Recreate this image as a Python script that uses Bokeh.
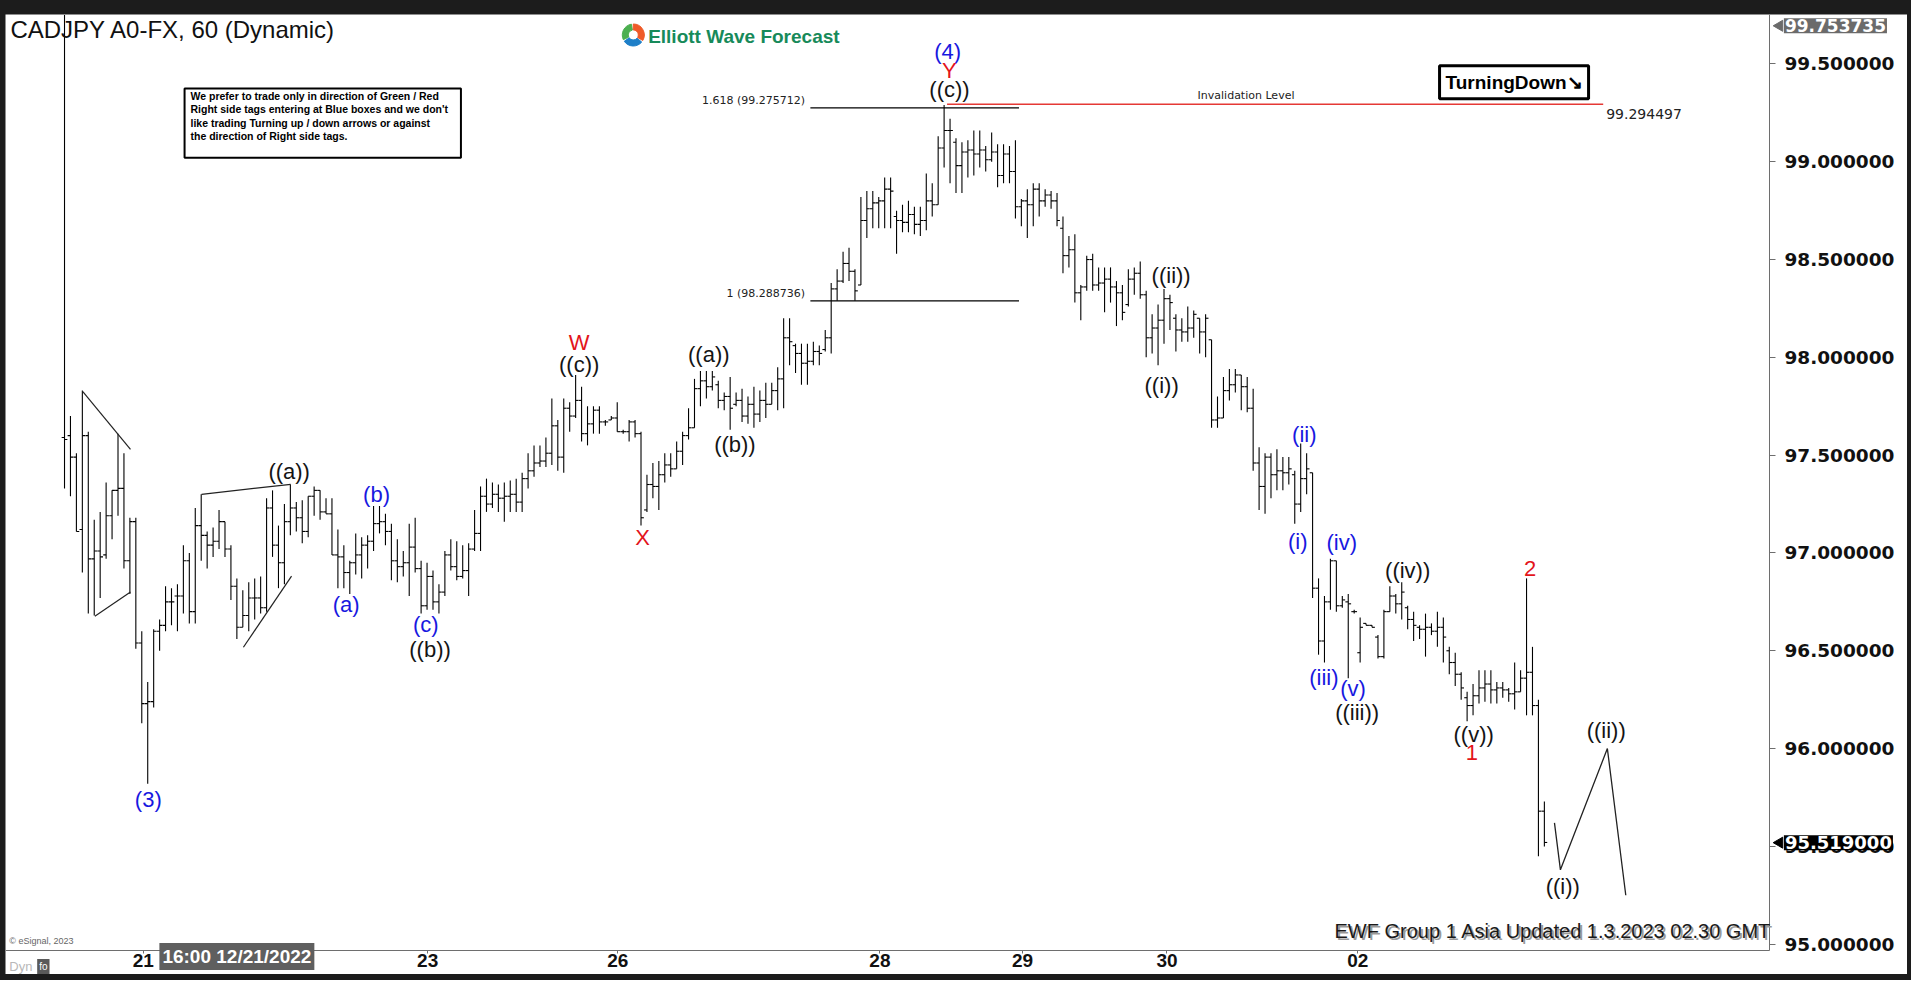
from bokeh.plotting import figure
from bokeh.models import Range1d, FixedTicker, PrintfTickFormatter, Label, ColumnDataSource
from bokeh.layouts import column
from bokeh.transform import dodge
from bokeh.embed import file_html
from bokeh.resources import INLINE
from bokeh.core.properties import value

# ---------------- data (hourly OHLC bars, CADJPY) ----------------
bar_high = [
    99.75, 97.70, 97.51, 97.83, 97.62, 97.17, 97.21, 97.36, 97.32, 97.61,
    97.51, 97.18, 97.18, 96.60, 96.34, 96.61, 96.66, 96.83, 96.82, 96.84,
    97.04, 97.00, 97.23, 97.30, 97.11, 97.13, 97.22, 97.16, 97.04, 96.87,
    96.81, 96.85, 96.87, 96.88, 97.28, 97.32, 97.14, 97.25, 97.35, 97.26,
    97.27, 97.29, 97.34, 97.32, 97.28, 97.28, 97.12, 97.04, 96.96, 97.10,
    97.08, 97.09, 97.24, 97.24, 97.20, 97.15, 97.07, 97.01, 97.15, 97.18,
    96.96, 96.95, 96.91, 96.84, 97.01, 97.07, 97.06, 97.04, 97.05, 97.22,
    97.34, 97.38, 97.36, 97.35, 97.36, 97.37, 97.38, 97.41, 97.51, 97.55,
    97.55, 97.59, 97.79, 97.68, 97.79, 97.77, 97.91, 97.85, 97.75, 97.75,
    97.75, 97.68, 97.70, 97.77, 97.63, 97.68, 97.68, 97.62, 97.40, 97.46,
    97.47, 97.51, 97.51, 97.57, 97.62, 97.74, 97.89, 97.93, 97.93, 97.93,
    97.88, 97.82, 97.90, 97.82, 97.84, 97.80, 97.85, 97.83, 97.87, 97.87,
    97.95, 98.20, 98.20, 98.07, 98.07, 98.07, 98.08, 98.06, 98.14, 98.38,
    98.45, 98.54, 98.56, 98.45, 98.82, 98.85, 98.85, 98.82, 98.92, 98.92,
    98.75, 98.78, 98.80, 98.77, 98.77, 98.94, 98.89, 99.13, 99.29, 99.22,
    99.12, 99.10, 99.11, 99.16, 99.16, 99.08, 99.15, 99.09, 99.09, 99.08,
    99.11, 98.81, 98.86, 98.89, 98.89, 98.86, 98.85, 98.84, 98.72, 98.62,
    98.63, 98.37, 98.52, 98.53, 98.46, 98.46, 98.46, 98.39, 98.37, 98.45,
    98.46, 98.49, 98.34, 98.22, 98.27, 98.35, 98.32, 98.22, 98.20, 98.26,
    98.24, 98.20, 98.22, 98.09, 97.80, 97.90, 97.94, 97.94, 97.91, 97.90,
    97.84, 97.54, 97.51, 97.51, 97.53, 97.49, 97.49, 97.42, 97.56, 97.51,
    97.41, 96.87, 96.78, 96.97, 96.96, 96.78, 96.79, 96.71, 96.67, 96.64,
    96.63, 96.58, 96.71, 96.83, 96.79, 96.85, 96.73, 96.70, 96.63, 96.69,
    96.64, 96.70, 96.67, 96.52, 96.49, 96.39, 96.29, 96.33, 96.40, 96.40,
    96.40, 96.34, 96.34, 96.31, 96.44, 96.40, 96.87, 96.52, 96.25, 95.73,
]
bar_low = [
    97.33, 97.29, 97.11, 96.90, 96.69, 96.68, 96.77, 96.97, 97.07, 97.19,
    96.92, 96.79, 96.51, 96.13, 95.82, 96.21, 96.50, 96.60, 96.63, 96.60,
    96.69, 96.64, 96.64, 96.96, 96.92, 96.98, 97.02, 96.98, 96.76, 96.56,
    96.62, 96.60, 96.66, 96.69, 96.70, 96.98, 96.82, 96.84, 97.09, 97.11,
    97.05, 97.08, 97.19, 97.17, 97.20, 96.99, 96.82, 96.82, 96.79, 96.89,
    96.87, 96.92, 97.01, 97.10, 97.04, 96.86, 96.85, 96.88, 96.78, 96.90,
    96.69, 96.71, 96.71, 96.69, 96.78, 96.91, 96.86, 96.87, 96.78, 97.01,
    97.01, 97.21, 97.23, 97.21, 97.16, 97.21, 97.21, 97.21, 97.33, 97.39,
    97.44, 97.44, 97.45, 97.42, 97.41, 97.62, 97.69, 97.57, 97.55, 97.61,
    97.61, 97.65, 97.68, 97.62, 97.61, 97.57, 97.59, 97.14, 97.21, 97.28,
    97.22, 97.36, 97.39, 97.43, 97.45, 97.58, 97.64, 97.75, 97.79, 97.83,
    97.74, 97.73, 97.63, 97.75, 97.67, 97.66, 97.64, 97.67, 97.69, 97.76,
    97.73, 97.74, 97.96, 97.92, 97.86, 97.86, 97.96, 97.96, 98.03, 98.02,
    98.29, 98.38, 98.39, 98.29, 98.37, 98.61, 98.66, 98.66, 98.66, 98.66,
    98.53, 98.64, 98.64, 98.63, 98.62, 98.65, 98.72, 98.78, 98.97, 98.89,
    98.84, 98.84, 98.92, 98.93, 98.97, 98.95, 99.00, 98.87, 98.89, 98.89,
    98.71, 98.67, 98.61, 98.67, 98.72, 98.77, 98.76, 98.67, 98.43, 98.46,
    98.28, 98.19, 98.34, 98.34, 98.34, 98.23, 98.28, 98.16, 98.19, 98.26,
    98.32, 98.30, 98.00, 98.02, 97.96, 98.07, 98.14, 98.03, 98.08, 98.08,
    98.10, 98.02, 98.00, 97.64, 97.64, 97.69, 97.78, 97.82, 97.73, 97.72,
    97.42, 97.22, 97.20, 97.28, 97.32, 97.32, 97.35, 97.15, 97.21, 97.30,
    96.77, 96.48, 96.44, 96.71, 96.70, 96.72, 96.36, 96.69, 96.44, 96.63,
    96.62, 96.46, 96.46, 96.70, 96.69, 96.66, 96.61, 96.55, 96.56, 96.47,
    96.58, 96.52, 96.44, 96.38, 96.32, 96.25, 96.14, 96.17, 96.23, 96.24,
    96.23, 96.23, 96.26, 96.24, 96.20, 96.29, 96.17, 96.17, 95.45, 95.50,
]
bar_open = [
    97.59, 97.60, 97.49, 97.12, 97.60, 96.97, 97.01, 96.99, 97.19, 97.32,
    97.33, 96.96, 97.16, 96.54, 96.23, 96.24, 96.60, 96.63, 96.75, 96.78,
    96.78, 96.96, 96.70, 97.14, 97.09, 97.04, 97.06, 97.16, 97.02, 96.83,
    96.62, 96.68, 96.77, 96.77, 96.72, 97.23, 97.04, 96.95, 97.16, 97.23,
    97.18, 97.11, 97.29, 97.32, 97.21, 97.20, 96.99, 96.98, 96.90, 96.95,
    96.99, 97.04, 97.06, 97.15, 97.16, 97.11, 96.96, 96.93, 96.95, 97.03,
    96.92, 96.73, 96.88, 96.75, 96.80, 96.99, 96.93, 96.88, 96.91, 97.02,
    97.10, 97.29, 97.25, 97.30, 97.28, 97.29, 97.30, 97.26, 97.38, 97.42,
    97.46, 97.47, 97.51, 97.65, 97.49, 97.74, 97.70, 97.78, 97.61, 97.66,
    97.73, 97.67, 97.68, 97.69, 97.62, 97.62, 97.67, 97.61, 97.22, 97.35,
    97.34, 97.40, 97.45, 97.43, 97.52, 97.60, 97.64, 97.84, 97.88, 97.85,
    97.86, 97.78, 97.80, 97.76, 97.78, 97.70, 97.76, 97.71, 97.78, 97.76,
    97.83, 97.89, 98.10, 98.06, 98.02, 97.97, 97.98, 98.03, 98.04, 98.10,
    98.35, 98.39, 98.48, 98.44, 98.37, 98.70, 98.76, 98.79, 98.80, 98.86,
    98.72, 98.70, 98.69, 98.73, 98.68, 98.70, 98.80, 98.78, 99.07, 99.16,
    99.10, 98.98, 99.05, 99.06, 99.04, 99.06, 99.01, 99.05, 98.93, 99.04,
    98.95, 98.77, 98.80, 98.78, 98.86, 98.80, 98.83, 98.80, 98.66, 98.52,
    98.55, 98.33, 98.36, 98.50, 98.37, 98.38, 98.40, 98.36, 98.33, 98.27,
    98.40, 98.43, 98.32, 98.10, 98.15, 98.19, 98.30, 98.20, 98.14, 98.13,
    98.15, 98.20, 98.13, 98.09, 97.68, 97.69, 97.83, 97.86, 97.91, 97.85,
    97.74, 97.46, 97.34, 97.49, 97.40, 97.42, 97.41, 97.40, 97.25, 97.38,
    97.41, 96.82, 96.55, 96.75, 96.96, 96.73, 96.75, 96.70, 96.49, 96.64,
    96.63, 96.57, 96.47, 96.70, 96.78, 96.74, 96.72, 96.66, 96.62, 96.61,
    96.62, 96.60, 96.62, 96.50, 96.44, 96.38, 96.26, 96.22, 96.27, 96.31,
    96.33, 96.30, 96.31, 96.30, 96.28, 96.29, 96.36, 96.39, 96.22, 95.68,
]
bar_close = [
    97.58, 97.49, 97.11, 97.60, 96.97, 97.01, 96.98, 97.19, 97.32, 97.33,
    96.96, 97.16, 96.54, 96.23, 96.24, 96.60, 96.63, 96.75, 96.75, 96.78,
    96.96, 96.70, 97.14, 97.09, 97.04, 97.06, 97.16, 97.02, 96.83, 96.62,
    96.68, 96.77, 96.77, 96.72, 97.23, 97.04, 96.95, 97.16, 97.23, 97.18,
    97.11, 97.29, 97.32, 97.21, 97.20, 96.99, 96.98, 96.90, 96.95, 96.99,
    97.04, 97.06, 97.15, 97.16, 97.11, 96.96, 96.93, 96.95, 97.03, 96.92,
    96.73, 96.88, 96.75, 96.80, 96.99, 96.93, 96.88, 96.91, 97.02, 97.10,
    97.29, 97.25, 97.30, 97.28, 97.29, 97.30, 97.26, 97.38, 97.42, 97.46,
    97.47, 97.51, 97.65, 97.49, 97.74, 97.70, 97.78, 97.61, 97.66, 97.73,
    97.67, 97.67, 97.69, 97.62, 97.62, 97.67, 97.61, 97.18, 97.35, 97.34,
    97.40, 97.45, 97.43, 97.52, 97.60, 97.64, 97.84, 97.88, 97.85, 97.90,
    97.78, 97.80, 97.74, 97.78, 97.70, 97.76, 97.71, 97.78, 97.76, 97.83,
    97.89, 98.10, 98.08, 98.02, 97.97, 97.98, 98.03, 98.02, 98.10, 98.35,
    98.39, 98.48, 98.44, 98.34, 98.70, 98.76, 98.79, 98.80, 98.86, 98.85,
    98.70, 98.69, 98.73, 98.68, 98.70, 98.80, 98.78, 99.07, 99.16, 99.16,
    98.98, 99.05, 99.06, 99.04, 99.06, 99.01, 99.05, 98.93, 99.04, 98.95,
    98.77, 98.80, 98.78, 98.86, 98.80, 98.83, 98.80, 98.70, 98.52, 98.55,
    98.33, 98.36, 98.50, 98.37, 98.38, 98.40, 98.36, 98.33, 98.23, 98.40,
    98.43, 98.32, 98.10, 98.15, 98.19, 98.30, 98.28, 98.14, 98.13, 98.15,
    98.22, 98.13, 98.20, 97.68, 97.69, 97.83, 97.86, 97.91, 97.85, 97.74,
    97.46, 97.34, 97.49, 97.40, 97.42, 97.41, 97.43, 97.25, 97.38, 97.43,
    96.82, 96.55, 96.75, 96.96, 96.73, 96.76, 96.74, 96.70, 96.62, 96.63,
    96.62, 96.47, 96.70, 96.78, 96.74, 96.80, 96.66, 96.63, 96.61, 96.62,
    96.60, 96.62, 96.57, 96.44, 96.38, 96.31, 96.22, 96.27, 96.31, 96.33,
    96.30, 96.31, 96.30, 96.28, 96.29, 96.36, 96.39, 96.22, 95.68, 95.52,
]
bar_index = list(range(len(bar_high)))

date_tick_pos = [13.25, 61.1, 93.1, 137.2, 161.2, 185.5, 217.6]
date_tick_labels = ["21", "23", "26", "28", "29", "30", "02"]
price_ticks = [95.0, 95.5, 96.0, 96.5, 97.0, 97.5, 98.0, 98.5, 99.0, 99.5]

blue_text = ["(3)", "(a)", "(b)", "(c)", "(4)", "(ii)", "(i)", "(iv)", "(iii)", "(v)"]
blue_x = [14.1, 47.4, 52.5, 60.8, 148.6, 208.6, 207.5, 214.9, 211.9, 216.8]
blue_y = [95.739, 96.737, 97.300, 96.635, 99.565, 97.607, 97.061, 97.052, 96.365, 96.307]

black_text = ["((a))", "((b))", "((c))", "((a))", "((b))", "((c))", "((i))", "((ii))",
              "((iii))", "((iv))", "((v))", "((i))", "((ii))"]
black_x = [37.8, 61.5, 86.6, 108.4, 112.8, 148.9, 184.6, 186.2, 217.5, 226.0, 237.1, 252.1, 259.4]
black_y = [97.416, 96.507, 97.965, 98.016, 97.552, 99.367, 97.854, 98.417, 96.182, 96.911,
           96.072, 95.295, 96.092]

red_text = ["W", "X", "Y", "1", "2"]
red_x = [86.6, 97.25, 148.9, 236.8, 246.6]
red_y = [98.076, 97.078, 99.466, 95.978, 96.921]

proj_x = [250.7, 251.7, 259.6, 262.7]
proj_y = [95.62, 95.38, 96.00, 95.25]

tri_x0 = [3.08, 5.1, 23.06, 30.1]
tri_y0 = [97.825, 96.677, 97.300, 96.518]
tri_x1 = [11.1, 11.1, 38.05, 38.2]
tri_y1 = [97.530, 96.801, 97.351, 96.882]

fib_levels = [99.275712, 98.288736]
fib_names = ["1.618 (99.275712)", "1 (98.288736)"]
fib_start, fib_end = 125.5, 160.6

invalidation_level = 99.294497
inval_start, inval_end = 148.5, 258.9

note_lines = ["We prefer to trade only in direction of Green / Red",
              "Right side tags entering at Blue boxes and we don't",
              "like trading Turning up / down arrows or against",
              "the direction of Right side tags."]
note_y = [99.338, 99.269, 99.200, 99.131]

last_price = 95.519
top_price = 99.753735

# chart area (bar index / price) and where the axes sit
x_view = (-9.93, 310.1)
y_view = (94.845, 99.7528)
x_axis_at = 94.968      # bottom edge of the price pane
y_axis_at = 286.87      # right edge of the price pane

# ---------------- figure ----------------
p = figure(width=1902, height=960, x_range=Range1d(*x_view), y_range=Range1d(*y_view),
           output_backend="svg", toolbar_location=None, y_axis_location="right",
           min_border_left=0, min_border_top=0, min_border_right=0, min_border_bottom=0)
p.xgrid.visible = False
p.ygrid.visible = False
p.outline_line_color = None
p.background_fill_color = "white"
p.border_fill_color = "white"

xa = p.xaxis[0]
xa.fixed_location = x_axis_at
xa.bounds = (x_view[0], y_axis_at)
xa.ticker = FixedTicker(ticks=date_tick_pos)
xa.major_label_overrides = dict(zip(date_tick_pos, date_tick_labels))
xa.minor_tick_line_color = None
xa.major_tick_in = 0
xa.major_tick_out = 3
xa.major_label_standoff = 1
xa.major_label_text_font = "Liberation Sans"
xa.major_label_text_font_style = "bold"
xa.major_label_text_font_size = "19px"
xa.major_label_text_color = "#111111"
xa.axis_line_color = "#6e6e6e"
xa.major_tick_line_color = "#6e6e6e"

ya = p.yaxis[0]
ya.fixed_location = y_axis_at
ya.bounds = (x_axis_at, y_view[1])
ya.ticker = FixedTicker(ticks=price_ticks)
ya.formatter = PrintfTickFormatter(format="%.6f")
ya.minor_tick_line_color = None
ya.major_tick_in = 0
ya.major_tick_out = 6
ya.major_label_standoff = 9
ya.major_label_text_font = "DejaVu Sans"
ya.major_label_text_font_style = "bold"
ya.major_label_text_font_size = "18.5px"
ya.major_label_text_color = "#111111"
ya.axis_line_color = "#6e6e6e"
ya.major_tick_line_color = "#6e6e6e"

# ---------------- OHLC bars ----------------
src = ColumnDataSource(dict(x=bar_index, high=bar_high, low=bar_low, open=bar_open, close=bar_close))
p.segment(x0="x", y0="low", x1="x", y1="high", source=src, line_color="black", line_width=1.1)
p.segment(x0=dodge("x", -0.48), y0="open", x1="x", y1="open", source=src, line_color="black", line_width=1.1)
p.segment(x0="x", y0="close", x1=dodge("x", 0.48), y1="close", source=src, line_color="black", line_width=1.1)

# pattern lines and projection
p.segment(x0=tri_x0, y0=tri_y0, x1=tri_x1, y1=tri_y1, line_color="#222222", line_width=1.2)
p.line(proj_x, proj_y, line_color="#222222", line_width=1.3)

# fib lines
p.segment(x0=[fib_start] * 2, y0=fib_levels, x1=[fib_end] * 2, y1=fib_levels,
          line_color="black", line_width=1.2)
p.text(x=[fib_start - 0.9] * 2, y=fib_levels, text=fib_names, text_font=value("DejaVu Sans"),
       text_font_size="11px", text_color="#222222", text_align="right", text_baseline="middle",
       y_offset=-7)

# invalidation level
p.segment(x0=[inval_start], y0=[invalidation_level], x1=[inval_end], y1=[invalidation_level],
          line_color="#e53935", line_width=1.5)
p.text(x=[198.8], y=[invalidation_level], text=["Invalidation Level"], text_font=value("DejaVu Sans"),
       text_font_size="11px", text_color="#222222", text_align="center", text_baseline="bottom",
       y_offset=-2)
p.text(x=[259.4], y=[invalidation_level], text=["99.294497"], text_font=value("DejaVu Sans"),
       text_font_size="14px", text_color="#222222", text_align="left", text_baseline="middle",
       y_offset=10)

# wave labels
common = dict(text_font=value("Liberation Sans"), text_font_size="22px",
              text_align="center", text_baseline="middle")
p.text(x=blue_x, y=blue_y, text=blue_text, text_color="#1818e0", **common)
p.text(x=black_x, y=black_y, text=black_text, text_color="#141414", **common)
p.text(x=red_x, y=red_y, text=red_text, text_color="#e3141b", **common)

# note box
p.quad(left=[20.2], right=[66.7], top=[99.374], bottom=[99.021], fill_color="white",
       line_color="black", line_width=2)
p.text(x=[21.2] * 4, y=note_y, text=note_lines, text_font=value("Liberation Sans"),
       text_font_style="bold", text_font_size="10.5px", text_color="black",
       text_align="left", text_baseline="middle")

# logo
p.annular_wedge(x=[95.7] * 3, y=[99.648] * 3, inner_radius=5, outer_radius=11,
                inner_radius_units="screen", outer_radius_units="screen",
                start_angle=[100, 215, 330], end_angle=[205, 320, 90],
                start_angle_units="deg", end_angle_units="deg",
                color=["#4caf50", "#1e7fc8", "#ef5a28"])

# price markers on the scale (pointer + box)
marker_y = [99.695, last_price]
p.scatter(x=[y_axis_at + 1.7] * 2, y=marker_y, marker="triangle", size=11,
          angle=90, angle_units="deg", color=["#6b6b6b", "black"])

# ---------------- annotations ----------------
def lab(**kw):
    p.add_layout(Label(**kw))

lab(x=-9.1, y=99.676, text="CADJPY A0-FX, 60 (Dynamic)", text_font="Liberation Sans",
    text_font_size="24px", text_color="#111111", text_baseline="middle", text_align="left")
lab(x=98.2, y=99.642, text="Elliott Wave Forecast", text_font="Liberation Sans",
    text_font_style="bold", text_font_size="19px", text_color="#178a5a",
    text_baseline="middle", text_align="left")
lab(x=243.9, y=99.406, text="TurningDown\u2198", text_font="Liberation Sans",
    text_font_style="bold", text_font_size="19px", text_color="black",
    text_baseline="middle", text_align="center", padding=6,
    background_fill_color="white", border_line_color="black", border_line_width=3)
lab(x=287.2, y=95.065, x_offset=2, y_offset=-2, text="EWF Group 1 Asia Updated 1.3.2023 02.30 GMT",
    text_font="Liberation Sans", text_font_size="20px", text_color="#9a9a9a",
    text_baseline="middle", text_align="right")
lab(x=287.2, y=95.065, text="EWF Group 1 Asia Updated 1.3.2023 02.30 GMT",
    text_font="Liberation Sans", text_font_size="20px", text_color="#1a1a1a",
    text_baseline="middle", text_align="right")
lab(x=-9.3, y=95.014, text="\u00a9 eSignal, 2023", text_font="Liberation Sans",
    text_font_size="9px", text_color="#666666", text_baseline="middle", text_align="left")
lab(x=-9.3, y=94.886, text="Dyn", text_font="Liberation Sans", text_font_size="13px",
    text_color="#b8b8b8", text_baseline="middle", text_align="left")
lab(x=-4.6, y=94.886, text="fo", text_font="Liberation Sans", text_font_size="10px",
    text_color="white", text_baseline="middle", text_align="left", padding=2,
    background_fill_color="#5a5a5a")
lab(x=29.0, y=94.9375, text="16:00 12/21/2022", text_font="Liberation Sans",
    text_font_style="bold", text_font_size="19px", text_color="white",
    text_baseline="middle", text_align="center", padding=3, background_fill_color="#5f5f5f")
lab(x=289.3, y=marker_y[0], text="99.753735", text_font="DejaVu Sans", text_font_style="bold",
    text_font_size="17px", text_color="white", text_baseline="middle", text_align="left",
    padding=1, background_fill_color="#6b6b6b")
lab(x=289.3, y=marker_y[1], text="95.519000", text_font="DejaVu Sans", text_font_style="bold",
    text_font_size="18px", text_color="white", text_baseline="middle", text_align="left",
    padding=1, background_fill_color="black")

layout = column(p, styles={"background-color": "#1c1c1c", "padding": "14px 4px 6px 5px"})
open("out.html", "w").write(file_html(layout, INLINE))
